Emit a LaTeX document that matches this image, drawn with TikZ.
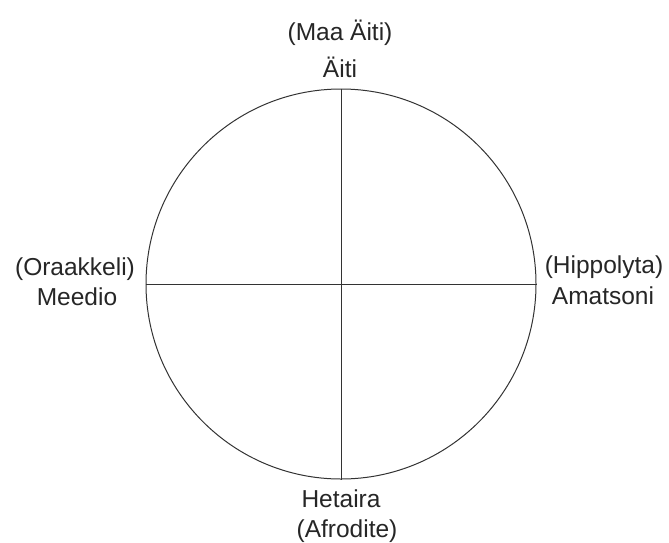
\documentclass[tikz,border=0pt]{standalone}
\usepackage{fontspec}
\setmainfont{Liberation Sans}
\begin{document}
\begin{tikzpicture}[x=1pt,y=-1pt,
  lbl/.style={anchor=base,inner sep=0pt,font=\fontsize{24.5}{30}\selectfont,text=black!85},
  ln/.style={line width=1pt,black!80}]
\useasboundingbox (0,0) rectangle (669,542);
\node[ln,draw,circle,minimum size=390pt,inner sep=0pt] (c) at (341,284) {};
\draw[ln] (c.north) -- (c.south);
\draw[ln] (c.west) -- (c.east);
\node[lbl] (t1) at (340,40) {(Maa Äiti)};
\node[lbl] (t2) at (340,77) {Äiti};
\node[lbl] (l1) at (75,275) {(Oraakkeli)};
\node[lbl] (l2) at (77,305) {Meedio};
\node[lbl] (r1) at (604,273) {(Hippolyta)};
\node[lbl] (r2) at (603,304) {Amatsoni};
\node[lbl] (b1) at (341,507) {Hetaira};
\node[lbl] (b2) at (347,537) {(Afrodite)};
\end{tikzpicture}
\end{document}
